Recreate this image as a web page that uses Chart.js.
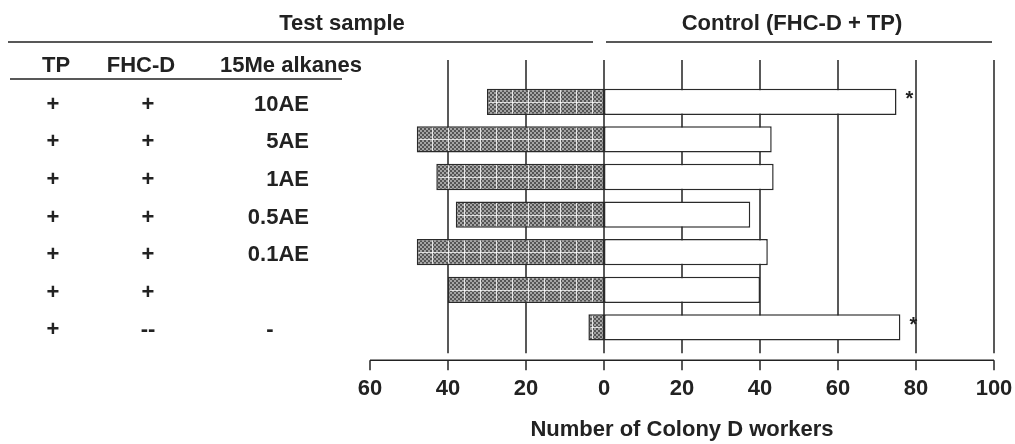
<!DOCTYPE html>
<html>
<head>
<meta charset="utf-8">
<title>Number of Colony D workers</title>
<script src="https://cdn.jsdelivr.net/npm/chart.js@4.4.1/dist/chart.umd.min.js"></script>
<style>
    html, body { margin: 0; padding: 0; background: #fff; }
    .chart-box { width: 1015px; height: 444px; position: relative; }
</style>
</head>
<body>
<div class="chart-box"><canvas id="colonyChart"></canvas></div>
<script>
// ============================================
// DATA
// ============================================
const rowIds = ['10AE', '5AE', '1AE', '0.5AE', '0.1AE', 'noAlkane', 'tpOnly'];

// treatment table (left side)
const tpMarks = ['+', '+', '+', '+', '+', '+', '+'];
const fhcMarks = ['+', '+', '+', '+', '+', '+', '--'];
const alkaneMarks = ['10AE', '5AE', '1AE', '0.5AE', '0.1AE', '', '-'];

// workers choosing test sample vs control
const testCounts = [30, 48, 43, 38, 48, 40, 4];
const controlCounts = [75, 43, 43.5, 37.5, 42, 40, 76];
const significance = ['*', '', '', '', '', '', '*'];

// axis
const axisMin = -60;
const axisMax = 100;
const axisStep = 20;

const INK = '#222';
const FONT = '"Liberation Sans", Arial, sans-serif';

// ============================================
// HATCH PATTERN FOR TEST BARS
// ============================================
function makeHatch() {
    const tile = document.createElement('canvas');
    tile.width = 16;
    tile.height = 4;
    const c = tile.getContext('2d');
    for (let y = 0; y < 4; y += 2) {
        for (let x = 0; x < 16; x += 2) {
            c.fillStyle = ((x + y) / 2) % 2 === 0 ? '#555555' : '#a4a4a4';
            c.fillRect(x, y, 2, 2);
        }
    }
    c.fillStyle = '#e6e6e6';
    c.fillRect(0, 0, 1, 4);
    return c.createPattern(tile, 'repeat');
}

// ============================================
// EXTRA DRAWING (grid, axis, table, asterisks)
// ============================================
const decorPlugin = {
    id: 'decor',
    beforeDatasetsDraw(chart) {
        const { ctx, chartArea, scales: { x } } = chart;
        ctx.save();
        ctx.strokeStyle = INK;
        ctx.lineWidth = 1.5;
        x.ticks.forEach(t => {
            if (t.value === x.min) return;
            const px = Math.round(x.getPixelForValue(t.value));
            ctx.beginPath();
            ctx.moveTo(px, chartArea.top - 23);
            ctx.lineTo(px, chartArea.bottom + 7);
            ctx.stroke();
        });
        ctx.restore();
    },
    afterDatasetsDraw(chart) {
        const { ctx } = chart;
        ctx.save();
        // light middle line on hatched bars
        const testMeta = chart.getDatasetMeta(0);
        ctx.strokeStyle = 'rgba(255,255,255,0.75)';
        ctx.lineWidth = 1;
        testMeta.data.forEach(bar => {
            const y = Math.round(bar.y) + 0.5;
            ctx.beginPath();
            ctx.moveTo(bar.x + 2, y);
            ctx.lineTo(bar.base - 2, y);
            ctx.stroke();
        });
        // asterisks
        const ctrlMeta = chart.getDatasetMeta(1);
        ctx.fillStyle = INK;
        ctx.font = 'bold 20px ' + FONT;
        ctx.textAlign = 'left';
        ctx.textBaseline = 'middle';
        ctrlMeta.data.forEach((bar, i) => {
            if (!significance[i]) return;
            ctx.fillText(significance[i], bar.x + 9, bar.y - 2);
        });
        ctx.restore();
    },
    afterDraw(chart) {
        const { ctx, chartArea, scales: { x, y } } = chart;
        ctx.save();
        ctx.strokeStyle = INK;
        ctx.lineWidth = 1.5;

        // x axis line and tick marks
        const axisY = chartArea.bottom + 14;
        ctx.beginPath();
        ctx.moveTo(x.getPixelForValue(axisMin), axisY);
        ctx.lineTo(x.getPixelForValue(axisMax), axisY);
        ctx.stroke();
        x.ticks.forEach(t => {
            const px = Math.round(x.getPixelForValue(t.value));
            ctx.beginPath();
            ctx.moveTo(px, axisY);
            ctx.lineTo(px, axisY + 10);
            ctx.stroke();
        });

        // header lines
        ctx.beginPath();
        ctx.moveTo(8, 42); ctx.lineTo(593, 42);
        ctx.moveTo(606, 42); ctx.lineTo(992, 42);
        ctx.moveTo(10, 79); ctx.lineTo(342, 79);
        ctx.stroke();

        ctx.fillStyle = INK;
        ctx.font = 'bold 22px ' + FONT;
        ctx.textBaseline = 'middle';
        ctx.textAlign = 'center';
        ctx.fillText('Test sample', 342, 24);
        ctx.fillText('Control (FHC-D + TP)', 792, 24);
        ctx.fillText('TP', 56, 66);
        ctx.fillText('FHC-D', 141, 66);
        ctx.fillText('15Me alkanes', 291, 66);

        // treatment rows
        rowIds.forEach((id, i) => {
            const py = y.getPixelForValue(i) + 3;
            ctx.textAlign = 'center';
            ctx.fillText(tpMarks[i], 53, py);
            ctx.fillText(fhcMarks[i], 148, py);
            const label = alkaneMarks[i];
            if (/^-+$/.test(label)) {
                ctx.fillText(label, 270, py);
            } else {
                ctx.textAlign = 'right';
                ctx.fillText(label, 309, py);
            }
        });
        ctx.restore();
    }
};

// ============================================
// CHART
// ============================================
function init() {
    const ctx = document.getElementById('colonyChart').getContext('2d');
    new Chart(ctx, {
        type: 'bar',
        data: {
            labels: rowIds,
            datasets: [
                {
                    label: 'Test sample',
                    data: testCounts.map(v => -v),
                    backgroundColor: makeHatch(),
                    borderColor: '#2a2a2a',
                    borderWidth: 1.5,
                    borderSkipped: false
                },
                {
                    label: 'Control (FHC-D + TP)',
                    data: controlCounts,
                    backgroundColor: '#ffffff',
                    borderColor: '#2a2a2a',
                    borderWidth: 1.5,
                    borderSkipped: false
                }
            ]
        },
        options: {
            indexAxis: 'y',
            responsive: true,
            maintainAspectRatio: false,
            animation: false,
            layout: { padding: { left: 370, right: 21, top: 83, bottom: 0 } },
            datasets: { bar: { categoryPercentage: 1, barPercentage: 0.7 } },
            plugins: {
                legend: { display: false },
                tooltip: { enabled: false }
            },
            scales: {
                y: { display: false, stacked: true },
                x: {
                    stacked: true,
                    min: axisMin,
                    max: axisMax,
                    grid: { display: false, drawTicks: false },
                    border: { display: false },
                    afterFit: scale => {
                        // end labels fit inside the page padding already
                        scale.paddingLeft = 0;
                        scale.paddingRight = 0;
                    },
                    ticks: {
                        stepSize: axisStep,
                        padding: 30,
                        color: INK,
                        font: { family: FONT, size: 22, weight: 'bold' },
                        callback: v => Math.abs(v)
                    },
                    title: {
                        display: true,
                        text: 'Number of Colony D workers',
                        color: INK,
                        font: { family: FONT, size: 22, weight: 'bold' },
                        padding: { top: -16, bottom: 1 }
                    }
                }
            }
        },
        plugins: [decorPlugin]
    });
}

document.addEventListener('DOMContentLoaded', init);
</script>
</body>
</html>
